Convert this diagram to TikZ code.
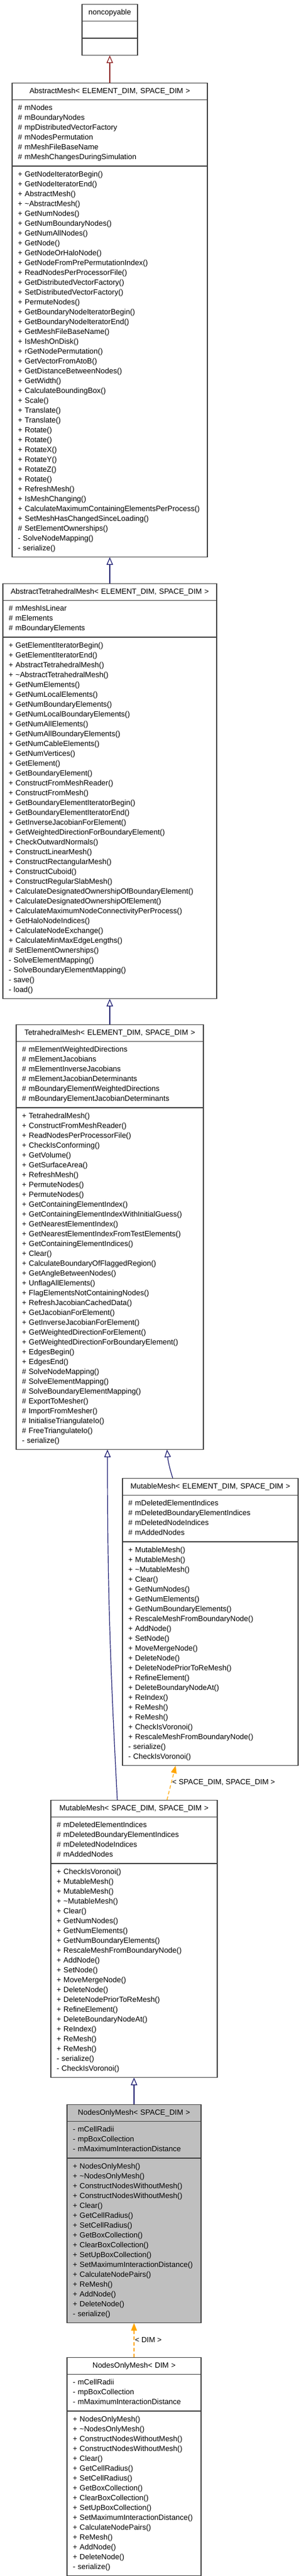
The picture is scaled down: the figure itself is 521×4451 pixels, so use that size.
\documentclass[tikz,border=0pt]{standalone}
\usepackage{fontspec}
\newfontfamily\umlfont{Liberation Sans}
\usetikzlibrary{shapes.multipart,arrows.meta}

\definecolor{edgeblue}{HTML}{191970}
\definecolor{edgered}{HTML}{8B1A1A}
\definecolor{edgeorange}{HTML}{FFA500}
\definecolor{boxline}{HTML}{404040}
\definecolor{boxgray}{HTML}{BFBFBF}

% one line of a class box, and a centred title line
\newcommand{\mline}[1]{\noindent\strut\mbox{#1}\par}
\newcommand{\ctitle}[1]{\centering\noindent\strut#1\par}

\begin{document}
\begin{tikzpicture}[x=1pt,y=1pt,
    umlclass/.style={rectangle split, rectangle split parts=3, draw=boxline,
      line width=1.2pt, fill=white, anchor=north, inner xsep=10pt, inner ysep=5.5pt,
      font=\umlfont\fontsize{13}{17}\selectfont},
    inherit/.style={-{Triangle[open,length=13pt,width=11pt]}, line width=1.2pt, edgeblue},
    instance/.style={-{Triangle[length=13pt,width=10pt]}, line width=1.2pt, edgeorange,
      dash pattern=on 6pt off 4pt},
    edgelabel/.style={anchor=west, inner sep=1pt, text=black,
      font=\umlfont\fontsize{13}{17}\selectfont}]
  \useasboundingbox (0,0) rectangle (521,-4451);

  \node[umlclass, text width=76pt] (noncopy) at (190,-7)
    {\ctitle{noncopyable}\nodepart{second}\mline{}\nodepart{third}\mline{}};

  \node[umlclass, text width=318pt] (absmesh) at (190,-143)
    {\ctitle{AbstractMesh< ELEMENT\_DIM, SPACE\_DIM >}
     \nodepart{second}
     \mline{\# mNodes}
     \mline{\# mBoundaryNodes}
     \mline{\# mpDistributedVectorFactory}
     \mline{\# mNodesPermutation}
     \mline{\# mMeshFileBaseName}
     \mline{\# mMeshChangesDuringSimulation}
     \nodepart{third}
     \mline{+ GetNodeIteratorBegin()}
     \mline{+ GetNodeIteratorEnd()}
     \mline{+ AbstractMesh()}
     \mline{+ \textasciitilde AbstractMesh()}
     \mline{+ GetNumNodes()}
     \mline{+ GetNumBoundaryNodes()}
     \mline{+ GetNumAllNodes()}
     \mline{+ GetNode()}
     \mline{+ GetNodeOrHaloNode()}
     \mline{+ GetNodeFromPrePermutationIndex()}
     \mline{+ ReadNodesPerProcessorFile()}
     \mline{+ GetDistributedVectorFactory()}
     \mline{+ SetDistributedVectorFactory()}
     \mline{+ PermuteNodes()}
     \mline{+ GetBoundaryNodeIteratorBegin()}
     \mline{+ GetBoundaryNodeIteratorEnd()}
     \mline{+ GetMeshFileBaseName()}
     \mline{+ IsMeshOnDisk()}
     \mline{+ rGetNodePermutation()}
     \mline{+ GetVectorFromAtoB()}
     \mline{+ GetDistanceBetweenNodes()}
     \mline{+ GetWidth()}
     \mline{+ CalculateBoundingBox()}
     \mline{+ Scale()}
     \mline{+ Translate()}
     \mline{+ Translate()}
     \mline{+ Rotate()}
     \mline{+ Rotate()}
     \mline{+ RotateX()}
     \mline{+ RotateY()}
     \mline{+ RotateZ()}
     \mline{+ Rotate()}
     \mline{+ RefreshMesh()}
     \mline{+ IsMeshChanging()}
     \mline{+ CalculateMaximumContainingElementsPerProcess()}
     \mline{+ SetMeshHasChangedSinceLoading()}
     \mline{\# SetElementOwnerships()}
     \mline{- SolveNodeMapping()}
     \mline{- serialize()}};

  \node[umlclass, text width=350pt] (abstet) at (190,-1008)
    {\ctitle{AbstractTetrahedralMesh< ELEMENT\_DIM, SPACE\_DIM >}
     \nodepart{second}
     \mline{\# mMeshIsLinear}
     \mline{\# mElements}
     \mline{\# mBoundaryElements}
     \nodepart{third}
     \mline{+ GetElementIteratorBegin()}
     \mline{+ GetElementIteratorEnd()}
     \mline{+ AbstractTetrahedralMesh()}
     \mline{+ \textasciitilde AbstractTetrahedralMesh()}
     \mline{+ GetNumElements()}
     \mline{+ GetNumLocalElements()}
     \mline{+ GetNumBoundaryElements()}
     \mline{+ GetNumLocalBoundaryElements()}
     \mline{+ GetNumAllElements()}
     \mline{+ GetNumAllBoundaryElements()}
     \mline{+ GetNumCableElements()}
     \mline{+ GetNumVertices()}
     \mline{+ GetElement()}
     \mline{+ GetBoundaryElement()}
     \mline{+ ConstructFromMeshReader()}
     \mline{+ ConstructFromMesh()}
     \mline{+ GetBoundaryElementIteratorBegin()}
     \mline{+ GetBoundaryElementIteratorEnd()}
     \mline{+ GetInverseJacobianForElement()}
     \mline{+ GetWeightedDirectionForBoundaryElement()}
     \mline{+ CheckOutwardNormals()}
     \mline{+ ConstructLinearMesh()}
     \mline{+ ConstructRectangularMesh()}
     \mline{+ ConstructCuboid()}
     \mline{+ ConstructRegularSlabMesh()}
     \mline{+ CalculateDesignatedOwnershipOfBoundaryElement()}
     \mline{+ CalculateDesignatedOwnershipOfElement()}
     \mline{+ CalculateMaximumNodeConnectivityPerProcess()}
     \mline{+ GetHaloNodeIndices()}
     \mline{+ CalculateNodeExchange()}
     \mline{+ CalculateMinMaxEdgeLengths()}
     \mline{\# SetElementOwnerships()}
     \mline{- SolveElementMapping()}
     \mline{- SolveBoundaryElementMapping()}
     \mline{- save()}
     \mline{- load()}};

  \node[umlclass, text width=304pt] (tetmesh) at (190,-1770)
    {\ctitle{TetrahedralMesh< ELEMENT\_DIM, SPACE\_DIM >}
     \nodepart{second}
     \mline{\# mElementWeightedDirections}
     \mline{\# mElementJacobians}
     \mline{\# mElementInverseJacobians}
     \mline{\# mElementJacobianDeterminants}
     \mline{\# mBoundaryElementWeightedDirections}
     \mline{\# mBoundaryElementJacobianDeterminants}
     \nodepart{third}
     \mline{+ TetrahedralMesh()}
     \mline{+ ConstructFromMeshReader()}
     \mline{+ ReadNodesPerProcessorFile()}
     \mline{+ CheckIsConforming()}
     \mline{+ GetVolume()}
     \mline{+ GetSurfaceArea()}
     \mline{+ RefreshMesh()}
     \mline{+ PermuteNodes()}
     \mline{+ PermuteNodes()}
     \mline{+ GetContainingElementIndex()}
     \mline{+ GetContainingElementIndexWithInitialGuess()}
     \mline{+ GetNearestElementIndex()}
     \mline{+ GetNearestElementIndexFromTestElements()}
     \mline{+ GetContainingElementIndices()}
     \mline{+ Clear()}
     \mline{+ CalculateBoundaryOfFlaggedRegion()}
     \mline{+ GetAngleBetweenNodes()}
     \mline{+ UnflagAllElements()}
     \mline{+ FlagElementsNotContainingNodes()}
     \mline{+ RefreshJacobianCachedData()}
     \mline{+ GetJacobianForElement()}
     \mline{+ GetInverseJacobianForElement()}
     \mline{+ GetWeightedDirectionForElement()}
     \mline{+ GetWeightedDirectionForBoundaryElement()}
     \mline{+ EdgesBegin()}
     \mline{+ EdgesEnd()}
     \mline{\# SolveNodeMapping()}
     \mline{\# SolveElementMapping()}
     \mline{\# SolveBoundaryElementMapping()}
     \mline{\# ExportToMesher()}
     \mline{\# ImportFromMesher()}
     \mline{\# InitialiseTriangulateIo()}
     \mline{\# FreeTriangulateIo()}
     \mline{- serialize()}};

  \node[umlclass, text width=284pt] (mutmesh) at (364,-2554)
    {\ctitle{MutableMesh< ELEMENT\_DIM, SPACE\_DIM >}
     \nodepart{second}
     \mline{\# mDeletedElementIndices}
     \mline{\# mDeletedBoundaryElementIndices}
     \mline{\# mDeletedNodeIndices}
     \mline{\# mAddedNodes}
     \nodepart{third}
     \mline{+ MutableMesh()}
     \mline{+ MutableMesh()}
     \mline{+ \textasciitilde MutableMesh()}
     \mline{+ Clear()}
     \mline{+ GetNumNodes()}
     \mline{+ GetNumElements()}
     \mline{+ GetNumBoundaryElements()}
     \mline{+ RescaleMeshFromBoundaryNode()}
     \mline{+ AddNode()}
     \mline{+ SetNode()}
     \mline{+ MoveMergeNode()}
     \mline{+ DeleteNode()}
     \mline{+ DeleteNodePriorToReMesh()}
     \mline{+ RefineElement()}
     \mline{+ DeleteBoundaryNodeAt()}
     \mline{+ ReIndex()}
     \mline{+ ReMesh()}
     \mline{+ ReMesh()}
     \mline{+ CheckIsVoronoi()}
     \mline{+ RescaleMeshFromBoundaryNode()}
     \mline{- serialize()}
     \mline{- CheckIsVoronoi()}};

  \node[umlclass, text width=268pt] (mutspace) at (232,-3110)
    {\ctitle{MutableMesh< SPACE\_DIM, SPACE\_DIM >}
     \nodepart{second}
     \mline{\# mDeletedElementIndices}
     \mline{\# mDeletedBoundaryElementIndices}
     \mline{\# mDeletedNodeIndices}
     \mline{\# mAddedNodes}
     \nodepart{third}
     \mline{+ CheckIsVoronoi()}
     \mline{+ MutableMesh()}
     \mline{+ MutableMesh()}
     \mline{+ \textasciitilde MutableMesh()}
     \mline{+ Clear()}
     \mline{+ GetNumNodes()}
     \mline{+ GetNumElements()}
     \mline{+ GetNumBoundaryElements()}
     \mline{+ RescaleMeshFromBoundaryNode()}
     \mline{+ AddNode()}
     \mline{+ SetNode()}
     \mline{+ MoveMergeNode()}
     \mline{+ DeleteNode()}
     \mline{+ DeleteNodePriorToReMesh()}
     \mline{+ RefineElement()}
     \mline{+ DeleteBoundaryNodeAt()}
     \mline{+ ReIndex()}
     \mline{+ ReMesh()}
     \mline{+ ReMesh()}
     \mline{- serialize()}
     \mline{- CheckIsVoronoi()}};

  \node[umlclass, text width=212pt, fill=boxgray] (nodesspace) at (232,-3636)
    {\ctitle{NodesOnlyMesh< SPACE\_DIM >}
     \nodepart{second}
     \mline{- mCellRadii}
     \mline{- mpBoxCollection}
     \mline{- mMaximumInteractionDistance}
     \nodepart{third}
     \mline{+ NodesOnlyMesh()}
     \mline{+ \textasciitilde NodesOnlyMesh()}
     \mline{+ ConstructNodesWithoutMesh()}
     \mline{+ ConstructNodesWithoutMesh()}
     \mline{+ Clear()}
     \mline{+ GetCellRadius()}
     \mline{+ SetCellRadius()}
     \mline{+ GetBoxCollection()}
     \mline{+ ClearBoxCollection()}
     \mline{+ SetUpBoxCollection()}
     \mline{+ SetMaximumInteractionDistance()}
     \mline{+ CalculateNodePairs()}
     \mline{+ ReMesh()}
     \mline{+ AddNode()}
     \mline{+ DeleteNode()}
     \mline{- serialize()}};

  \node[umlclass, text width=212pt] (nodesdim) at (232,-4073)
    {\ctitle{NodesOnlyMesh< DIM >}
     \nodepart{second}
     \mline{- mCellRadii}
     \mline{- mpBoxCollection}
     \mline{- mMaximumInteractionDistance}
     \nodepart{third}
     \mline{+ NodesOnlyMesh()}
     \mline{+ \textasciitilde NodesOnlyMesh()}
     \mline{+ ConstructNodesWithoutMesh()}
     \mline{+ ConstructNodesWithoutMesh()}
     \mline{+ Clear()}
     \mline{+ GetCellRadius()}
     \mline{+ SetCellRadius()}
     \mline{+ GetBoxCollection()}
     \mline{+ ClearBoxCollection()}
     \mline{+ SetUpBoxCollection()}
     \mline{+ SetMaximumInteractionDistance()}
     \mline{+ CalculateNodePairs()}
     \mline{+ ReMesh()}
     \mline{+ AddNode()}
     \mline{+ DeleteNode()}
     \mline{- serialize()}};

  % inheritance
  \draw[inherit, edgered] (absmesh.north) -- (noncopy.south);
  \draw[inherit] (abstet.north) -- (absmesh.south);
  \draw[inherit] (tetmesh.north) -- (abstet.south);
  \draw[inherit] ([xshift=-65pt]mutmesh.north) to[bend left=6] ([xshift=99pt]tetmesh.south);
  \draw[inherit] ([xshift=-29pt]mutspace.north) to[out=93,in=-90] ([xshift=-4pt]tetmesh.south);
  \draw[inherit] (nodesspace.north) -- (mutspace.south);

  % template instances
  \draw[instance] ([xshift=57pt]mutspace.north) -- ([xshift=-60pt]mutmesh.south)
    node[edgelabel, midway] {< SPACE\_DIM, SPACE\_DIM >};
  \draw[instance] (nodesdim.north) -- (nodesspace.south)
    node[edgelabel, midway] {< DIM >};
\end{tikzpicture}
\end{document}
